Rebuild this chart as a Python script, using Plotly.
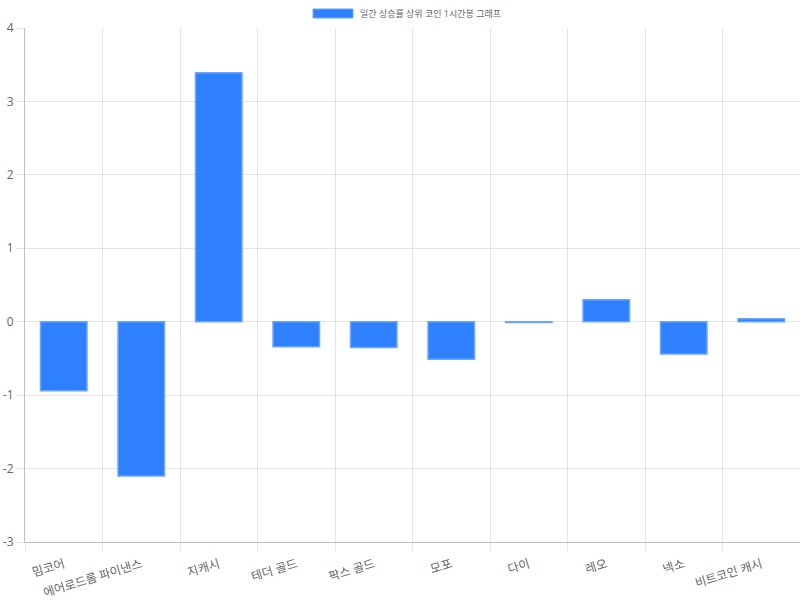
import plotly.graph_objects as go

categories = ["밈코어", "에어로드롬 파이낸스", "지캐시", "테더 골드", "팍스 골드",
              "모포", "다이", "레오", "넥소", "비트코인 캐시"]
values = [-0.94, -2.10, 3.39, -0.34, -0.35, -0.51, -0.01, 0.30, -0.44, 0.04]
series_name = "일간 상승률 상위 코인 1시간봉 그래프"
y_ticks = [-3, -2, -1, 0, 1, 2, 3, 4]

FONT = "Open Sans, Noto Sans CJK KR, sans-serif"

fig = go.Figure()
fig.add_trace(go.Bar(
    x=categories, y=values, name=series_name,
    marker=dict(color="#2f80ff", line=dict(color="#6aa6ff", width=1.5)),
    showlegend=False,
))

fig.update_layout(
    width=800, height=600,
    margin=dict(l=25, r=0, t=28, b=58),
    paper_bgcolor="white", plot_bgcolor="white",
    bargap=0.4,
    font=dict(family=FONT, color="#666", size=12),
    xaxis=dict(
        type="category", tickson="boundaries", ticks="outside", ticklen=8,
        tickcolor="rgba(0,0,0,0.1)", showgrid=True, gridcolor="rgba(0,0,0,0.1)",
        showline=True, linecolor="rgba(0,0,0,0.25)", linewidth=1,
        tickangle=-17, automargin=False, tickfont=dict(size=12, color="#666"),
        ticklabelstandoff=10,
        range=[-0.5, 9.5],
    ),
    yaxis=dict(
        range=[-3, 4], tickvals=y_ticks, ticktext=[str(v) for v in y_ticks],
        ticks="outside", ticklen=8,
        tickcolor="rgba(0,0,0,0.1)", showgrid=True, gridcolor="rgba(0,0,0,0.1)",
        zeroline=True, zerolinecolor="rgba(0,0,0,0.1)", zerolinewidth=1,
        showline=True, linecolor="rgba(0,0,0,0.25)", linewidth=1,
        automargin=False, tickfont=dict(size=12, color="#666"),
    ),
    shapes=[dict(type="rect", xref="paper", yref="paper",
                 x0=(313 - 25) / 775, x1=(353 - 25) / 775,
                 y0=(542 - 18) / 514, y1=(542 - 9) / 514,
                 fillcolor="#2f80ff", line=dict(color="#6aa6ff", width=1))],
    annotations=[dict(text=series_name, xref="paper", yref="paper",
                      x=(358 - 25) / 775, y=(542 - 13.5) / 514,
                      xanchor="left", yanchor="middle", showarrow=False,
                      font=dict(size=9, color="#666", family=FONT))],
)

fig.write_html("out.html", config={"displayModeBar": False})

with open("out.html", "r", encoding="utf-8") as f:
    html = f.read()
html = html.replace("<body>", '<body style="margin:0;overflow:hidden">', 1)
with open("out.html", "w", encoding="utf-8") as f:
    f.write(html)
